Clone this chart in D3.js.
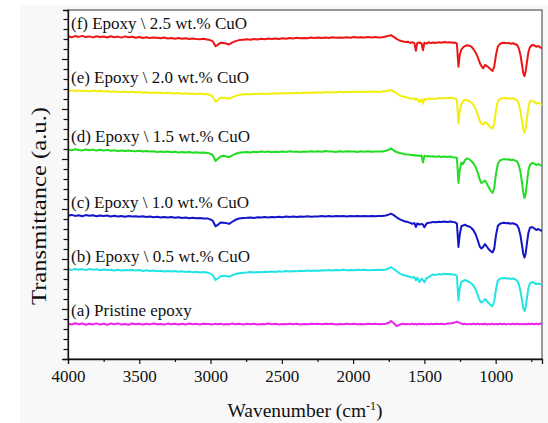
<!DOCTYPE html>
<html>
<head>
<meta charset="utf-8">
<script src="https://cdn.jsdelivr.net/npm/d3@7"></script>
<style>
  html, body { margin: 0; padding: 0; background: #ffffff; }
  svg { display: block; }
  svg text { font-family: "Liberation Serif", "Times New Roman", "DejaVu Serif", serif; fill: #111; }
</style>
</head>
<body>
<svg id="chart" width="548" height="423"></svg>
<script>
// Wavenumber grid (cm^-1), shared by every spectrum
const wavenumbers = [
  4000,3975,3950,3925,3900,3875,3850,3825,3800,3775,
  3750,3725,3700,3675,3650,3625,3600,3575,3550,3525,
  3500,3475,3450,3425,3400,3375,3350,3325,3300,3275,
  3250,3225,3200,3175,3150,3125,3100,3075,3050,3025,
  3010,2985,2965,2950,2930,2910,2890,2870,2850,2825,2800,2770,
  2745,2720,2695,2670,2645,2620,2595,2570,2545,2520,
  2495,2470,2445,2420,2395,2370,2345,2320,2295,2270,
  2245,2220,2195,2170,2145,2120,2095,2070,2045,2020,
  1995,1970,1945,1920,1895,1870,1845,1820,1795,
  1770,1750,1735,1715,1695,1675,1655,1635,1615,1600,
  1585,1570,1560,1550,1535,1520,1510,1500,1485,1470,
  1455,1440,1420,1400,1380,1360,1340,1320,1300,1285,
  1272,1261,1252,1240,1228,1215,1200,1185,1170,1155,
  1140,1125,1112,1100,1088,1075,1062,1050,1036,1022,
  1010,998,985,970,955,940,925,910,895,880,
  865,850,838,826,815,806,798,790,780,770,
  760,745,730,715,700,685,675
];

// Relative transmittance of each sample (a.u.), before stacking
const pristineEpoxy = [
  0.4,-0.5,0.7,-0.2,0.5,-0.7,0.3,-0.4,0.6,-0.6,
  0.2,-0.8,0.4,-0.3,0.6,-0.5,0.1,-0.7,0.5,-0.2,
  0.3,-0.6,0.2,-0.4,0.5,-0.3,0.1,-0.6,0.4,-0.2,
  0.3,-0.5,0.2,-0.4,0.4,-0.3,0.2,-0.5,0.3,-0.1,
  0.1,-0.4,0.3,-0.2,0.2,-0.5,0.1,-0.3,0.4,-0.2,0.2,-0.4,
  0.3,-0.3,0.2,-0.5,0.1,-0.3,0.4,-0.2,0.2,-0.4,
  0.1,-0.3,0.3,-0.2,0.2,-0.4,0.1,-0.3,0.3,-0.1,
  0.2,-0.3,0.3,-0.1,0.2,-0.4,0.1,-0.2,0.3,-0.2,
  0.2,-0.3,0.1,-0.2,0.3,-0.1,0.2,-0.3,0.1,
  0.3,1.2,3.0,0.8,-2.0,-0.8,0.2,-0.3,0.1,-0.4,
  0.2,-0.3,0.1,-0.5,0.2,-0.2,0.3,-0.4,0.1,-0.3,
  0.2,-0.2,0.3,-0.1,0.2,-0.3,0.4,0.6,1.0,1.6,
  2.3,1.8,1.0,0.4,-0.2,0.2,-0.4,0.1,-0.3,0.2,
  -0.2,0.3,-0.4,0.1,-0.3,0.2,-0.5,0.1,-0.2,0.3,
  -0.4,0.1,-0.3,0.2,-0.2,0.3,-0.4,0.1,-0.3,0.2,
  -0.2,0.4,-0.3,0.1,-0.4,0.2,-0.3,0.1,-0.2,0.3,
  -0.1,0.2,-0.3,0.4,-0.2,0.5,0.3
];
const cuo05 = [
  0.3,-0.4,0.5,-0.2,0.4,-0.6,0.6,-0.3,0.2,-0.7,
  0.1,-0.6,-0.2,-0.9,-0.3,-1.0,-0.5,-0.8,-0.4,-1.1,
  -0.6,-1.4,-0.8,-1.5,-1.0,-1.7,-1.3,-1.9,-1.4,-2.1,
  -1.6,-2.3,-1.8,-2.5,-2.0,-2.7,-2.2,-2.9,-2.5,-3.1,
  -3.5,-5.5,-10.5,-9.0,-6.8,-6.4,-6.6,-7.2,-5.8,-4.6,-3.8,-3.3,
  -3.0,-2.6,-3.1,-2.4,-2.8,-2.2,-2.6,-2.0,-2.4,-1.8,
  -2.2,-1.6,-2.0,-1.4,-1.8,-1.2,-1.6,-1.1,-1.5,-0.9,
  -1.3,-0.7,-1.1,-0.5,-0.9,-0.4,-0.8,-0.3,-0.7,-0.4,
  -0.7,-0.3,-0.6,-0.2,-0.7,-0.4,-0.6,-0.3,-0.5,
  0.0,1.0,2.5,0.5,-1.8,-3.8,-5.2,-6.0,-6.8,-7.6,
  -8.0,-7.4,-10.8,-8.2,-12.5,-9.0,-10.6,-12.8,-8.8,-7.6,
  -6.2,-5.0,-5.4,-4.6,-5.0,-4.3,-4.8,-4.4,-4.9,-5.2,
  -6.5,-31.0,-19.0,-12.0,-11.5,-10.5,-11.5,-12.5,-14.0,-16.5,
  -20.0,-26.0,-31.0,-33.0,-32.0,-29.5,-31.5,-33.5,-35.5,-36.5,
  -32.0,-20.0,-11.0,-9.2,-8.8,-8.5,-9.0,-8.7,-9.4,-9.0,
  -9.8,-11.0,-14.5,-21.5,-31.0,-38.5,-41.5,-38.0,-28.0,-18.5,
  -14.0,-12.5,-13.5,-14.5,-14.0,-14.8,-14.5
];
const cuo10 = [
  -0.2,0.6,-0.4,0.3,-0.7,0.4,-0.3,0.2,-0.8,0.0,
  -0.5,-0.1,-0.9,-0.3,-1.0,-0.6,-1.2,-0.5,-1.1,-0.8,
  -1.3,-0.7,-1.5,-1.0,-1.7,-1.2,-1.9,-1.4,-2.1,-1.6,
  -2.3,-1.8,-2.4,-2.0,-2.7,-2.2,-2.8,-2.5,-3.1,-2.9,
  -3.4,-5.2,-10.8,-9.4,-7.0,-7.2,-7.6,-8.4,-6.5,-4.3,-3.0,-2.5,
  -2.3,-2.0,-2.4,-1.8,-2.1,-1.6,-2.0,-1.4,-1.8,-1.3,
  -1.7,-1.1,-1.5,-1.0,-1.4,-0.9,-1.3,-0.8,-1.2,-0.9,
  -1.1,-0.6,-1.0,-0.5,-0.9,-0.4,-0.8,-0.5,-0.9,-0.6,
  -0.8,-0.4,-0.7,-0.5,-0.8,-0.4,-0.7,-0.5,-0.6,
  0.0,0.9,1.8,0.4,-1.8,-3.6,-4.8,-6.0,-6.6,-7.4,
  -8.2,-7.6,-11.5,-8.0,-9.0,-8.4,-9.2,-11.8,-8.0,-7.2,
  -7.0,-6.4,-6.8,-6.2,-6.6,-6.0,-6.4,-6.1,-6.6,-6.8,
  -8.0,-31.5,-19.0,-10.5,-10.0,-9.2,-10.5,-11.0,-12.5,-15.0,
  -19.0,-25.0,-31.0,-33.0,-31.5,-28.5,-31.0,-33.5,-35.5,-37.0,
  -33.0,-20.0,-10.5,-8.3,-7.6,-7.2,-7.8,-7.5,-8.2,-7.8,
  -8.5,-9.6,-13.0,-20.0,-30.0,-38.5,-42.0,-38.5,-27.0,-17.0,
  -12.5,-11.5,-12.8,-14.5,-13.5,-15.0,-15.0
];
const cuo15 = [
  0.5,-0.2,0.7,0.1,-0.4,0.5,-0.3,0.4,-0.6,0.2,
  -0.5,0.1,-0.8,-0.2,-0.9,-0.4,-1.1,-0.5,-1.0,-1.3,
  -0.8,-1.5,-1.0,-1.6,-1.2,-1.9,-1.4,-2.0,-1.5,-2.2,
  -1.7,-2.4,-1.9,-2.6,-2.1,-2.8,-2.3,-2.7,-2.5,-3.0,
  -3.3,-5.0,-11.0,-9.0,-6.5,-5.8,-6.4,-7.0,-5.6,-3.8,-2.8,-2.2,
  -2.0,-2.5,-1.8,-2.3,-1.6,-2.1,-1.5,-2.2,-1.7,-2.0,
  -1.4,-1.9,-1.3,-1.8,-1.5,-2.0,-1.4,-1.7,-1.2,-1.8,
  -1.3,-1.7,-1.1,-1.6,-1.4,-1.9,-1.3,-1.8,-1.2,-1.6,
  -1.4,-1.9,-1.2,-1.7,-1.3,-1.8,-1.4,-1.6,-1.5,
  -0.8,0.3,1.7,-0.5,-2.0,-3.0,-3.6,-4.2,-4.5,-4.8,
  -5.2,-4.9,-5.8,-5.3,-6.0,-5.6,-12.5,-5.8,-6.4,-6.0,
  -6.6,-6.2,-6.8,-6.3,-6.9,-6.5,-7.0,-6.6,-7.2,-7.4,
  -8.0,-33.0,-20.0,-12.5,-14.0,-10.0,-8.3,-9.5,-11.0,-13.5,
  -17.0,-23.0,-29.5,-33.0,-32.0,-30.5,-33.5,-37.0,-40.5,-43.0,
  -38.0,-24.0,-14.0,-10.5,-9.6,-9.0,-9.6,-9.3,-10.0,-9.8,
  -10.4,-11.5,-15.0,-22.0,-33.0,-43.0,-48.0,-44.0,-32.0,-20.0,
  -15.0,-13.0,-13.5,-15.0,-14.0,-15.5,-15.0
];
const cuo20 = [
  -0.2,0.5,-0.4,0.3,-0.6,0.2,-0.8,0.1,-0.5,-0.1,
  -0.9,-0.3,-1.2,-0.5,-1.0,-1.4,-0.7,-1.5,-1.0,-1.8,
  -1.3,-2.0,-1.5,-2.2,-1.7,-2.4,-1.9,-2.6,-2.1,-2.5,
  -2.9,-2.3,-3.0,-2.6,-3.2,-2.8,-3.4,-2.9,-3.6,-3.3,
  -4.0,-5.8,-11.0,-9.5,-7.2,-7.0,-7.3,-8.0,-6.8,-5.2,-4.2,-3.6,
  -3.3,-3.7,-3.0,-3.4,-2.8,-3.3,-2.7,-3.1,-2.5,-2.9,
  -2.3,-2.8,-2.2,-2.6,-2.0,-2.5,-1.9,-2.3,-1.7,-2.1,
  -1.5,-2.0,-1.4,-1.8,-1.2,-1.7,-1.1,-1.5,-1.0,-1.4,
  -0.8,-1.3,-0.9,-1.2,-0.7,-1.1,-0.8,-1.2,-0.9,
  -0.4,0.2,0.7,-0.8,-2.6,-4.6,-5.8,-6.4,-7.0,-7.8,
  -8.2,-7.6,-9.2,-8.0,-11.5,-8.4,-13.0,-8.2,-9.0,-7.6,
  -8.4,-7.8,-8.2,-7.4,-7.9,-7.2,-7.6,-7.0,-7.4,-7.8,
  -9.0,-32.6,-20.0,-13.0,-10.2,-9.3,-9.6,-10.4,-12.0,-14.5,
  -18.5,-24.0,-30.0,-33.0,-34.0,-31.5,-32.5,-34.5,-36.5,-38.0,
  -33.0,-20.0,-10.5,-8.2,-7.6,-7.2,-7.8,-7.4,-8.0,-7.6,
  -8.4,-9.6,-13.0,-20.5,-31.0,-39.0,-42.0,-38.0,-27.0,-17.0,
  -10.5,-9.8,-11.2,-12.8,-12.0,-13.5,-14.0
];
const cuo25 = [
  0.4,-0.5,0.6,-0.2,0.8,-0.4,0.3,-0.7,0.5,-0.3,
  0.2,-0.8,0.4,-0.5,0.1,-0.9,0.3,-0.6,-0.1,-1.0,
  -0.4,-1.2,-0.5,-1.4,-0.8,-1.1,-1.6,-0.9,-1.7,-1.2,
  -2.0,-1.4,-2.1,-1.6,-2.4,-1.8,-2.3,-2.6,-2.0,-2.8,
  -3.0,-4.6,-9.5,-8.2,-6.0,-6.4,-6.8,-7.8,-6.0,-4.4,-3.4,-3.0,
  -2.6,-3.0,-2.3,-2.8,-2.1,-2.6,-1.9,-2.4,-1.7,-2.2,
  -1.5,-2.0,-1.3,-1.8,-1.1,-1.6,-1.2,-1.5,-0.9,-1.4,
  -0.8,-1.3,-0.7,-1.2,-0.6,-1.1,-0.8,-1.0,-0.5,-1.0,
  -0.4,-0.9,-0.5,-0.8,-0.3,-0.9,-0.4,-0.7,-0.5,
  0.2,0.9,1.6,-0.2,-2.2,-3.8,-4.6,-5.2,-5.0,-6.3,
  -5.6,-6.4,-14.0,-6.2,-5.8,-6.8,-13.5,-6.0,-7.0,-5.6,
  -6.4,-5.8,-6.2,-5.5,-6.0,-5.4,-5.9,-5.6,-6.1,-5.8,
  -7.0,-30.0,-18.0,-12.6,-10.6,-9.3,-8.6,-9.0,-10.0,-12.6,
  -16.0,-20.6,-26.0,-29.3,-31.6,-28.3,-29.3,-30.6,-32.6,-34.3,
  -30.0,-18.3,-10.0,-7.3,-6.3,-6.0,-6.6,-6.2,-7.0,-6.5,
  -7.3,-8.3,-11.6,-18.3,-28.3,-36.6,-39.3,-35.0,-25.0,-15.0,
  -10.6,-8.3,-8.6,-10.0,-9.3,-11.0,-11.6
];

// Stacking offsets (a.u.) and labels, bottom to top
const sampleLabels = [
  "(a) Pristine epoxy",
  "(b) Epoxy \\ 0.5 wt.% CuO",
  "(c) Epoxy \\ 1.0 wt.% CuO",
  "(d) Epoxy \\ 1.5 wt.% CuO",
  "(e) Epoxy \\ 2.0 wt.% CuO",
  "(f) Epoxy \\ 2.5 wt.% CuO"
];
const stackOffsets = [35, 89.5, 143.5, 209, 268.3, 322.3];
const spectra = [pristineEpoxy, cuo05, cuo10, cuo15, cuo20, cuo25];
const lineColors = ["#ee22ee", "#22e4e4", "#1414c8", "#22dd22", "#f2ee10", "#ee1515"];

const xMajorTicks = [4000, 3500, 3000, 2500, 2000, 1500, 1000];
const xMinorTicks = [3750, 3250, 2750, 2250, 1750, 1250, 750];

const SERIF = '"Liberation Serif", "Times New Roman", "DejaVu Serif", serif';
const svg = d3.select("#chart").style("font-family", SERIF);
const W = 548, H = 423;
const plot = { left: 68, right: 542, top: 10, bottom: 359 };

// soft paper-like backdrop of the figure
svg.append("rect").attr("x", 20).attr("y", 5).attr("width", W - 20).attr("height", H - 5)
  .attr("fill", "#f8f8f8");

const x = d3.scaleLinear().domain([4000, 675]).range([plot.left, plot.right]);
const y = d3.scaleLinear().domain([0, 349]).range([plot.bottom, plot.top]);

// plot frame
svg.append("rect")
  .attr("x", plot.left).attr("y", plot.top)
  .attr("width", plot.right - plot.left).attr("height", plot.bottom - plot.top)
  .attr("fill", "#ffffff").attr("stroke", "#555").attr("stroke-width", 1.2);

// spectra
const line = d3.line()
  .x((d, i) => x(wavenumbers[i]))
  .y(d => y(d));

spectra.forEach((vals, k) => {
  const n = Math.min(vals.length, wavenumbers.length);
  const pts = vals.slice(0, n).map(v => v + stackOffsets[k]);
  svg.append("path")
    .datum(pts)
    .attr("fill", "none")
    .attr("stroke", lineColors[k])
    .attr("stroke-width", 2)
    .attr("stroke-linejoin", "round")
    .attr("d", line);
});

// sample labels above each trace
svg.append("g").selectAll("text")
  .data(sampleLabels)
  .join("text")
  .attr("x", 71)
  .attr("y", (d, i) => y(stackOffsets[i]) - 8)
  .attr("font-size", 17)
  .style("font-family", SERIF)
  .text(d => d);

// bottom axis
const xAxis = svg.append("g").attr("transform", `translate(0,${plot.bottom})`)
  .call(d3.axisBottom(x).tickValues(xMajorTicks).tickSize(5).tickPadding(6).tickFormat(d3.format("d")));
xAxis.attr("font-family", null);
xAxis.select(".domain").attr("stroke", "#111").attr("stroke-width", 1.3);
xAxis.selectAll(".tick line").attr("stroke", "#111").attr("stroke-width", 1.2);
xAxis.selectAll("text").attr("font-size", 17).style("font-family", SERIF).attr("fill", "#111");

const xMinor = svg.append("g").attr("transform", `translate(0,${plot.bottom})`)
  .call(d3.axisBottom(x).tickValues(xMinorTicks).tickSize(3).tickFormat(""));
xMinor.select(".domain").remove();
xMinor.selectAll(".tick line").attr("stroke", "#111").attr("stroke-width", 1.2);

// left axis: unlabelled ticks
const yTicks = d3.range(0, 341, 10);
const yAxis = svg.append("g").attr("transform", `translate(${plot.left},0)`)
  .call(d3.axisLeft(y).tickValues(yTicks).tickSize(5).tickFormat(""));
yAxis.select(".domain").attr("stroke", "#111").attr("stroke-width", 1.3);
yAxis.selectAll(".tick line")
  .attr("stroke", "#111").attr("stroke-width", 1.2)
  .attr("x2", d => (d % 50 === 0 ? -6 : -4.5));

// axis titles
const xt = svg.append("text")
  .attr("x", 305).attr("y", 417)
  .attr("text-anchor", "middle")
  .attr("font-size", 19.5)
  .style("font-family", SERIF);
xt.append("tspan").text("Wavenumber (cm");
xt.append("tspan").attr("dy", -7).attr("font-size", 12).text("-1");
xt.append("tspan").attr("dy", 7).text(")");

svg.append("text")
  .attr("transform", "translate(46,206) rotate(-90)")
  .attr("text-anchor", "middle")
  .attr("font-size", 20)
  .attr("textLength", 198)
  .attr("lengthAdjust", "spacingAndGlyphs")
  .style("font-family", SERIF)
  .text("Transmittance (a.u.)");
</script>
</body>
</html>
